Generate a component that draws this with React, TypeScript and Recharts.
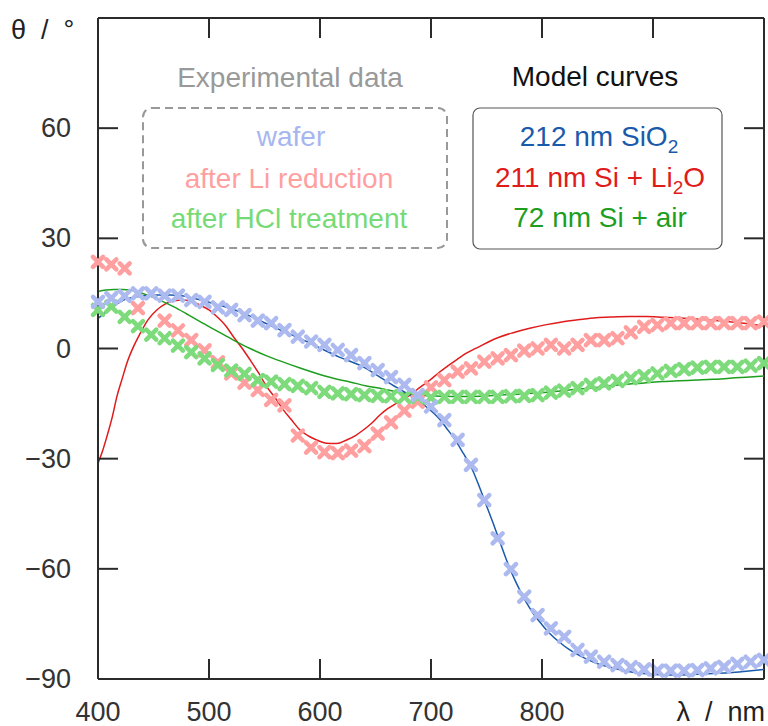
import React from "react";
import { ComposedChart, Line, Scatter, XAxis, YAxis, ReferenceLine } from "recharts";

// experimental points, sampled every ~12 nm
const expLambda = [
  400, 412, 424, 436, 448, 460, 472, 484, 496, 508, 520, 532, 544, 556, 568, 580, 592,
  604, 616, 628, 640, 652, 664, 676, 688, 700, 712, 724, 736, 748, 760, 772, 784, 796,
  808, 820, 832, 844, 856, 868, 880, 892, 904, 916, 928, 940, 952, 964, 976, 988, 1000,
];
const waferTheta = [
  12.7, 13.7, 14.3, 15.0, 15.0, 14.4, 14.4, 13.2, 12.7, 11.2, 10.5, 9.1, 7.6, 6.9, 5.0, 3.2, 1.9,
  1.0, -0.4, -1.8, -4.0, -5.9, -7.8, -9.9, -12.7, -15.8, -19.5, -24.9, -31.7, -41.3, -51.7, -60.1, -67.6, -72.6,
  -76.2, -78.5, -82.1, -83.9, -85.3, -86.2, -86.8, -87.4, -87.7, -87.7, -87.7, -87.6, -87.1, -86.7, -85.9, -85.3, -84.8,
];
const liTheta = [
  23.6, 22.9, 21.8, 11.0, null, 7.6, 4.9, 2.3, -0.5, -3.8, -6.8, -9.3, -11.3, -14.0, -15.5, -23.7, -27.0,
  -28.2, -28.5, -27.8, -26.6, -23.2, -20.1, -16.9, -14.5, -10.6, -8.6, -6.3, -5.4, -3.6, -2.7, -1.8, -0.6, 0.0,
  1.0, 0.0, 1.0, 2.3, 2.3, 2.8, 4.4, 5.9, 6.4, 6.9, 6.9, 6.9, 6.9, 6.9, 6.9, 6.9, 7.3,
];
const hclTheta = [
  10.5, 11.4, 8.6, 6.1, 3.8, 2.8, 0.8, -1.0, -2.7, -4.5, -6.0, -6.9, -8.6, -9.0, -9.7, -10.2, -10.8,
  -11.8, -12.2, -12.4, -12.7, -12.9, -13.0, -13.2, -13.2, -13.4, -13.2, -13.2, -13.2, -13.2, -13.2, -13.0, -12.9, -12.7,
  -12.0, -11.5, -10.8, -9.9, -9.5, -8.8, -8.1, -7.5, -6.8, -6.1, -5.6, -5.2, -5.0, -5.0, -5.0, -4.7, -4.0,
];

// model curves
const sio2Lambda = [
  400, 412, 423, 438, 453, 465, 477, 490, 500, 515, 528, 543, 558, 573, 588, 603, 618, 639, 655,
  669, 681, 690, 699, 707, 714, 722, 729, 737, 744, 750, 756, 762, 768, 774, 780, 786, 792, 800,
  807, 815, 825, 837, 849, 864, 879, 894, 909, 924, 939, 954, 969, 984, 1000,
];
const sio2Theta = [
  8.2, 11.0, 13.2, 14.2, 14.6, 14.6, 14.3, 13.4, 12.6, 11.3, 10.0, 8.0, 5.9, 3.9, 1.9, -0.3, -2.4, -5.0, -8.0,
  -10.6, -12.7, -14.5, -16.7, -19.0, -21.7, -25.0, -28.5, -32.8, -38.0, -42.8, -47.6, -52.6, -57.6, -62.0, -65.8, -69.2, -72.1, -75.2,
  -77.6, -79.8, -82.1, -84.1, -85.7, -87.0, -88.0, -88.6, -88.9, -88.9, -88.7, -88.5, -88.3, -87.9, -87.4,
];
const li2oLambda = [
  400, 404, 408, 413, 417, 422, 426, 432, 438, 445, 453, 460, 468, 477, 485, 492, 500, 507, 515,
  522, 530, 537, 545, 552, 560, 567, 575, 582, 590, 597, 606, 615, 624, 632, 639, 647, 654, 661,
  669, 675, 681, 690, 699, 707, 714, 722, 729, 744, 759, 774, 789, 804, 819, 834, 849, 864, 879,
  894, 909, 924, 939, 954, 969, 984, 1000,
];
const li2oTheta = [
  -31.3, -28.0, -24.0, -18.5, -13.1, -8.0, -4.0, 0.5, 4.1, 7.8, 10.5, 12.0, 13.0, 13.2, 12.8, 11.8, 10.5, 8.7, 6.2,
  3.2, 0.0, -3.1, -6.8, -10.4, -13.6, -16.7, -19.7, -22.2, -23.9, -24.9, -25.8, -25.9, -24.9, -23.7, -22.2, -20.2, -18.1, -16.4,
  -14.9, -13.8, -12.7, -10.6, -8.6, -6.6, -5.0, -3.3, -1.8, 0.6, 2.8, 4.3, 5.5, 6.5, 7.3, 7.9, 8.4, 8.6, 8.7,
  8.7, 8.5, 8.3, 8.0, 7.7, 7.3, 6.8, 6.1,
];
const airLambda = [
  400, 407, 414, 422, 429, 437, 444, 456, 468, 480, 492, 507, 522, 537, 552, 567, 582, 597, 612,
  627, 642, 657, 672, 687, 699, 714, 729, 744, 759, 774, 789, 804, 819, 834, 849, 864, 879, 894,
  909, 924, 939, 954, 969, 984, 1000,
];
const airTheta = [
  15.5, 15.9, 16.1, 16.1, 15.9, 15.3, 14.6, 13.1, 11.4, 9.4, 7.3, 4.8, 2.3, 0.0, -2.0, -3.7, -5.3, -6.8, -8.1,
  -9.1, -10.2, -11.0, -12.0, -12.5, -12.9, -13.0, -13.1, -13.0, -12.7, -12.5, -12.2, -11.9, -11.5, -11.0, -10.6, -10.1, -9.7, -9.3,
  -9.0, -8.8, -8.6, -8.4, -8.1, -7.8, -7.5,
];

const xTicks = [400, 500, 600, 700, 800, 900, 1000];
const yTicks = [-90, -60, -30, 0, 30, 60, 90];

const LEFT = 98;
const RIGHT = 764;
const TOP = 18;
const BOTTOM = 679;
const TICK = 20;
const FONT = "'Liberation Sans', Arial, sans-serif";
const AXIS = "#2b2b2b";

const toPoints = (xs: number[], ys: (number | null)[]) =>
  xs.map((x, i) => ({ x, y: ys[i] })).filter((p) => p.y !== null);

const XMark = ({ cx, cy, color }: { cx: number; cy: number; color: string }) => {
  const d = 5;
  return (
    <g stroke={color} strokeWidth={4.5} strokeLinecap="round">
      <line x1={cx - d} y1={cy - d} x2={cx + d} y2={cy + d} />
      <line x1={cx - d} y1={cy + d} x2={cx + d} y2={cy - d} />
    </g>
  );
};

const XTick = (props: any) => {
  const { x, payload } = props;
  const v = payload.value;
  return (
    <g>
      {v > 400 && v < 1000 && (
        <g stroke={AXIS} strokeWidth={2}>
          <line x1={x} x2={x} y1={BOTTOM} y2={BOTTOM - TICK} />
          <line x1={x} x2={x} y1={TOP} y2={TOP + TICK} />
        </g>
      )}
      {v <= 800 && (
        <text x={x} y={721} textAnchor="middle" fontFamily={FONT} fontSize={27} fill="#333">
          {v}
        </text>
      )}
      {v === 1000 && (
        <text x={x + 1} y={721} textAnchor="end" fontFamily={FONT} fontSize={27} fill="#222">
          {"λ\u00a0\u00a0/\u00a0\u00a0nm"}
        </text>
      )}
    </g>
  );
};

const YTick = (props: any) => {
  const { y, payload } = props;
  const v = payload.value;
  return (
    <g>
      {v > -90 && v < 90 && (
        <g stroke={AXIS} strokeWidth={2}>
          <line x1={LEFT} x2={LEFT + TICK} y1={y} y2={y} />
          <line x1={RIGHT} x2={RIGHT - TICK} y1={y} y2={y} />
        </g>
      )}
      {v < 90 ? (
        <text x={71} y={y + 9} textAnchor="end" fontFamily={FONT} fontSize={27} fill="#333">
          {String(v).replace("-", "\u2212")}
        </text>
      ) : (
        <text x={11} y={39} textAnchor="start" fontFamily={FONT} fontSize={27} fill="#222">
          {"θ\u00a0\u00a0/\u00a0\u00a0°"}
        </text>
      )}
    </g>
  );
};

const Legends = () => (
  <svg
    width={768}
    height={726}
    style={{ position: "absolute", left: 0, top: 0, pointerEvents: "none" }}
    fontFamily={FONT}
    fontSize={28}
    textAnchor="middle"
  >
    <text x={290} y={87} fill="#999">Experimental data</text>
    <rect x={143} y={108} width={304} height={140} rx={9} fill="none" stroke="#999" strokeWidth={2} strokeDasharray="8 5" />
    <text x={291} y={146} fill="#a8b6ef">wafer</text>
    <text x={289} y={188} fill="#ff9f9f">after Li reduction</text>
    <text x={289} y={228} fill="#76da76">after HCl treatment</text>

    <text x={595} y={86} fill="#111">Model curves</text>
    <rect x={473} y={108} width={249} height={141} rx={7} fill="none" stroke="#555" strokeWidth={1.2} />
    <text x={599} y={146} fill="#1a5aab">
      212 nm SiO<tspan fontSize={19} dy={7}>2</tspan>
    </text>
    <text x={600} y={187} fill="#e01b1b">
      211 nm Si + Li<tspan fontSize={19} dy={7}>2</tspan>
      <tspan dy={-7}>O</tspan>
    </text>
    <text x={600} y={227} fill="#1e9e1e">72 nm Si + air</text>
  </svg>
);

export default function App() {
  return (
    <div style={{ position: "absolute", left: 0, top: 0, width: 768, height: 726, background: "#fff" }}>
      <ComposedChart width={768} height={726} margin={{ top: TOP, right: 768 - RIGHT, left: 0, bottom: 0 }}>
        <XAxis
          type="number"
          dataKey="x"
          domain={[400, 1000]}
          ticks={xTicks}
          height={726 - BOTTOM}
          tickLine={false}
          axisLine={{ stroke: AXIS, strokeWidth: 2 }}
          tick={<XTick />}
          interval={0}
        />
        <YAxis
          type="number"
          dataKey="y"
          domain={[-90, 90]}
          ticks={yTicks}
          width={LEFT}
          tickLine={false}
          axisLine={{ stroke: AXIS, strokeWidth: 2 }}
          tick={<YTick />}
          interval={0}
        />
        <ReferenceLine y={90} stroke={AXIS} strokeWidth={2} />
        <ReferenceLine x={1000} stroke={AXIS} strokeWidth={2} />
        <Scatter
          data={toPoints(expLambda, liTheta)}
          isAnimationActive={false}
          shape={(p: any) => <XMark cx={p.cx} cy={p.cy} color="#ff9f9f" />}
        />
        <Scatter
          data={toPoints(expLambda, hclTheta)}
          isAnimationActive={false}
          shape={(p: any) => <XMark cx={p.cx} cy={p.cy} color="#7ddb7b" />}
        />
        <Scatter
          data={toPoints(expLambda, waferTheta)}
          isAnimationActive={false}
          shape={(p: any) => <XMark cx={p.cx} cy={p.cy} color="#adbaf0" />}
        />
        <Line
          data={toPoints(li2oLambda, li2oTheta)}
          dataKey="y"
          type="monotone"
          stroke="#e01b1b"
          strokeWidth={1.5}
          dot={false}
          isAnimationActive={false}
        />
        <Line
          data={toPoints(airLambda, airTheta)}
          dataKey="y"
          type="monotone"
          stroke="#1e9e1e"
          strokeWidth={1.5}
          dot={false}
          isAnimationActive={false}
        />
        <Line
          data={toPoints(sio2Lambda, sio2Theta)}
          dataKey="y"
          type="monotone"
          stroke="#1a5aab"
          strokeWidth={1.5}
          dot={false}
          isAnimationActive={false}
        />
      </ComposedChart>
      <Legends />
    </div>
  );
}
